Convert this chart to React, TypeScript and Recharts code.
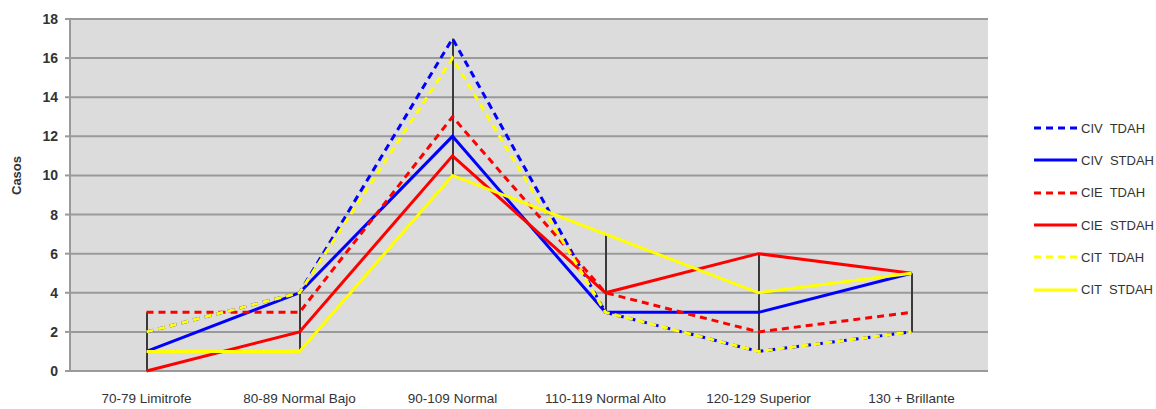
import React from 'react';
import { ComposedChart, Line, Bar, XAxis, YAxis, CartesianGrid, Legend } from 'recharts';

const categories = ['70-79 Limitrofe', '80-89 Normal Bajo', '90-109 Normal', '110-119 Normal Alto', '120-129 Superior', '130 + Brillante'];
const civTdah = [2, 4, 17, 3, 1, 2];
const civStdah = [1, 4, 12, 3, 3, 5];
const cieTdah = [3, 3, 13, 4, 2, 3];
const cieStdah = [0, 2, 11, 4, 6, 5];
const citTdah = [2, 4, 16, 3, 1, 2];
const citStdah = [1, 1, 10, 7, 4, 5];
const yTicks = [0, 2, 4, 6, 8, 10, 12, 14, 16, 18];

const seriesDefs = [
  { key: 'civTdah', name: 'CIV  TDAH', color: '#0000ff', dash: '7 5', values: civTdah },
  { key: 'civStdah', name: 'CIV  STDAH', color: '#0000ff', dash: '', values: civStdah },
  { key: 'cieTdah', name: 'CIE  TDAH', color: '#ff0000', dash: '7 5', values: cieTdah },
  { key: 'cieStdah', name: 'CIE  STDAH', color: '#ff0000', dash: '', values: cieStdah },
  { key: 'citTdah', name: 'CIT  TDAH', color: '#ffff00', dash: '7 5', values: citTdah },
  { key: 'citStdah', name: 'CIT  STDAH', color: '#ffff00', dash: '', values: citStdah },
];

const data = categories.map((c, i) => {
  const row: any = { cat: c };
  const vals: number[] = [];
  seriesDefs.forEach((s) => {
    row[s.key] = s.values[i];
    vals.push(s.values[i]);
  });
  row.range = [Math.min(...vals), Math.max(...vals)];
  return row;
});

const font = '"Liberation Sans", Arial, sans-serif';

const LegendContent = () => (
  <div style={{ fontFamily: font }}>
    {seriesDefs.map((def, i) => (
      <div key={i} style={{ display: 'flex', alignItems: 'center', height: 32.3, whiteSpace: 'nowrap' }}>
        <svg width={44} height={10} style={{ marginRight: 3, flex: 'none' }}>
          <line x1={0} y1={5} x2={43} y2={5} stroke={def.color} strokeWidth={3} strokeDasharray={def.dash || undefined} />
        </svg>
        <span style={{ fontSize: 13, color: '#333', whiteSpace: 'pre' }}>{def.name}</span>
      </div>
    ))}
  </div>
);

export default function App() {
  return (
    <div style={{ position: 'absolute', left: 0, top: 0, background: '#fff', width: 1156, height: 409, overflow: 'hidden' }}>
      <ComposedChart width={1156} height={409} data={data} margin={{ top: 19, right: 168, left: 0, bottom: 8 }}>
        <CartesianGrid vertical={false} stroke="#9a9a9a" strokeWidth={2} fill="#dcdcdc" />
        <XAxis
          dataKey="cat"
          axisLine={false}
          tickLine={false}
          tickSize={0}
          tickMargin={22}
          height={30}
          interval={0}
          tick={{ fontSize: 13.5, fill: '#333', fontFamily: font }}
        />
        <YAxis
          domain={[0, 18]}
          ticks={yTicks}
          width={70}
          axisLine={{ stroke: '#9a9a9a', strokeWidth: 2 }}
          tickLine={{ stroke: '#9a9a9a', strokeWidth: 2 }}
          tickSize={5}
          tickMargin={7}
          tick={{ fontSize: 14, fill: '#333', fontFamily: font, fontWeight: 'bold' }}
          label={{ value: 'Casos', angle: -90, position: 'insideLeft', offset: 16, style: { fontSize: 13, fontWeight: 'bold', fill: '#333', fontFamily: font } }}
        />
        <Bar dataKey="range" barSize={2} fill="#3a3a3a" isAnimationActive={false} legendType="none" />
        {seriesDefs.map((s) => (
          <Line
            key={s.key}
            type="linear"
            dataKey={s.key}
            name={s.name}
            stroke={s.color}
            strokeWidth={3}
            strokeDasharray={s.dash || undefined}
            dot={false}
            activeDot={false}
            isAnimationActive={false}
          />
        ))}
        <Legend
          layout="vertical"
          align="center"
          verticalAlign="middle"
          content={<LegendContent />}
          wrapperStyle={{ position: 'absolute', left: 1034, top: 112, width: 122 }}
        />
      </ComposedChart>
    </div>
  );
}
